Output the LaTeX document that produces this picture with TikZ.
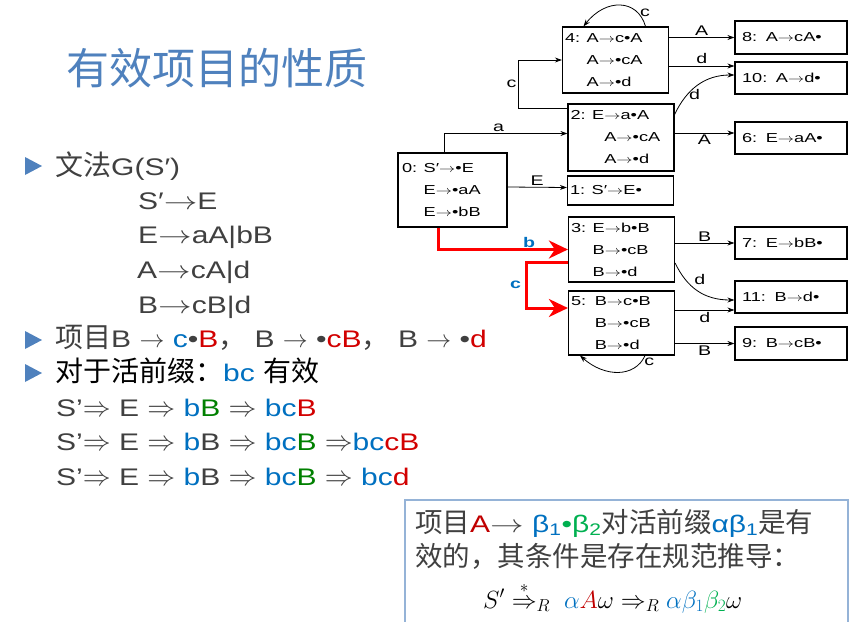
\documentclass[tikz,border=0pt]{standalone}
\usepackage{graphicx}
\usepackage{fontspec}
\setmainfont[FakeStretch=1.25]{Liberation Sans}
\newfontfamily\cjk{Noto Sans CJK SC}
\newfontfamily\dgfont[FakeStretch=1.4]{Liberation Sans}
\usetikzlibrary{arrows.meta}
\definecolor{titleblue}{RGB}{79,129,189}
\definecolor{txtgray}{RGB}{64,64,64}
\definecolor{kblue}{RGB}{0,112,192}
\definecolor{kred}{RGB}{210,0,0}
\definecolor{dred}{RGB}{192,0,0}
\definecolor{kgreen}{RGB}{0,128,0}
\definecolor{lgreen}{RGB}{0,176,80}
\definecolor{frameblue}{RGB}{149,179,215}
\newcommand{\zh}[1]{{\cjk\fontsize{28}{28}\selectfont #1}}
\newcommand{\zhb}[1]{{\cjk\fontsize{27.5}{27.5}\selectfont #1}}
\newcommand{\blu}[1]{\textcolor{kblue}{#1}}
\newcommand{\rdd}[1]{\textcolor{kred}{#1}}
\newcommand{\grn}[1]{\textcolor{kgreen}{#1}}
\newcommand{\ra}{\scalebox{1.35}[1]{$\rightarrow$}}
\newcommand{\Ra}{\scalebox{1.12}{$\Rightarrow$}}
\tikzset{
  lstate/.style={draw, line width=1.2pt, minimum width=106, minimum height=66, text width=101, inner sep=2.5pt, align=left, font=\dgfont\fontsize{13}{22}\selectfont},
  rstate/.style={lstate, minimum width=112, minimum height=32, text width=98},
  arr/.style={-{Stealth[length=7pt,width=5pt]}, line width=0.8pt},
  rarr/.style={-{Stealth[length=19pt,width=18pt,inset=6pt]}, line width=3pt, red},
  lbl/.style={inner sep=1.5pt, font=\dgfont\fontsize{14}{14}\selectfont},
  blbl/.style={inner sep=0.5pt, text=kblue, font=\dgfont\bfseries\fontsize{14}{14}\selectfont},
  ttl/.style={anchor=west, inner sep=0pt, text=titleblue, font=\cjk\fontsize{43}{43}\selectfont},
  txt/.style={anchor=base west, inner sep=0pt, text=txtgray, font=\fontsize{24}{24}\selectfont},
  frame/.style={draw=frameblue, line width=1.6pt},
}
\begin{document}
\begin{tikzpicture}[x=1pt,y=-1pt]
\useasboundingbox (0,0) rectangle (861,621);
\node[ttl] (title) at (66,68) {有效项目的性质};
\foreach \y in {166,340,373} \fill[titleblue] (25,\y-9) -- (42,\y) -- (25,\y+9) -- cycle;
\node[txt] (g0) at (55,175) {\zh{文法}G(S′)};
\node[txt] (g1) at (138,209) {S′\ra E};
\node[txt] (g2) at (138,243) {E\ra aA|bB};
\node[txt] (g3) at (137,278) {A\ra cA|d};
\node[txt] (g4) at (138,313) {B\ra cB|d};
\node[txt] (items) at (55,347) {\zh{项目}B $\rightarrow$ \blu{c}•\rdd{B}\zh{，} B $\rightarrow$ •\rdd{cB}\zh{，} B $\rightarrow$ •\rdd{d}};
\node[txt, text=black] (prefix) at (55,381) {\zh{对于活前缀：}\blu{bc} \zh{有效}};
\node[txt] (der1) at (56,416) {S’\Ra\ E \Ra\ \blu{b}\grn{B} \Ra\ \blu{bc}\rdd{B}};
\node[txt] (der2) at (56,450) {S’\Ra\ E \Ra\ \blu{b}B \Ra\ \blu{bc}\grn{B} \Ra\blu{bc}\rdd{cB}};
\node[txt] (der3) at (56,485) {S’\Ra\ E \Ra\ \blu{b}B \Ra\ \blu{bc}\grn{B} \Ra\ \blu{bc}\rdd{d}};

\node[lstate, minimum width=109, minimum height=74] (s0) at (452.5,190) {0: S′\ra•E\\\phantom{0: }E\ra•aA\\\phantom{0: }E\ra•bB};
\node[lstate, minimum height=29] (s1) at (620.5,190.5) {1: S′\ra E•};
\node[lstate, minimum height=67] (s2) at (621,137.5) {2: E\ra a•A\\\phantom{2: E}A\ra•cA\\\phantom{2: E}A\ra•d};
\node[lstate, minimum height=65] (s3) at (621.5,249.5) {3: E\ra b•B\\\phantom{3: }B\ra•cB\\\phantom{3: }B\ra•d};
\node[lstate] (s4) at (615.5,60) {4: A\ra c•A\\\phantom{4: }A\ra•cA\\\phantom{4: }A\ra•d};
\node[lstate, minimum height=64] (s5) at (621.5,323) {5:\ \ B\ra c•B\\\phantom{5:\ \ }B\ra•cB\\\phantom{5:\ \ }B\ra•d};
\node[rstate] (s6) at (791,138) {6:\ \ E\ra aA•};
\node[rstate] (s7) at (791,243) {7:\ \ E\ra bB•};
\node[rstate, minimum height=33] (s8) at (791,37.5) {8:\ \ A\ra cA•};
\node[rstate, minimum height=33] (s9) at (791,343.5) {9:\ \ B\ra cB•};
\node[rstate] (s10) at (791,78) {10:\ \ A\ra d•};
\node[rstate] (s11) at (791,297) {11:\ \ B\ra d•};

\draw[arr] ([xshift=47]s0.north west) |- node[lbl, pos=0.72, above]{a} ([yshift=4]s2.west);
\draw[arr] ([yshift=3]s0.east) -- node[lbl, above]{E} ([yshift=3]s1.west);
\draw[arr] ([yshift=-5]s2.north west) -- ++(-49,0) |- node[lbl, pos=0.25, left]{c} (s4.west);
\draw[arr] ([xshift=30]s4.north) .. controls +(-8,-28) and +(22,-28) .. node[lbl, pos=0.2, right=0pt]{c} ([xshift=-32]s4.north);
\draw[arr] (s4.east |- s8.west) -- node[lbl, above]{A} (s8.west);
\draw[arr] ([yshift=-6]s4.east) -- node[lbl, above]{d} ([yshift=12]s10.west);
\draw[arr] ([yshift=-11]s2.north east) .. controls +(12,-25) and +(-30,0) .. node[lbl, pos=0.3, right]{d} ([yshift=3]s10.west);
\draw[arr] ([yshift=4.5]s2.east) -- node[lbl, below]{A} ([yshift=5]s6.west);
\draw[rarr] ([xshift=41]s0.south west) |- node[blbl, pos=0.85, above]{b} (s3.west);
\draw[rarr] ([yshift=-12.5]s3.west) -- ++(-41,0) |- node[blbl, pos=0.25, left=4pt]{c} ([yshift=15]s5.west);
\draw[arr] (s3.east |- s7.west) -- node[lbl, above]{B} (s7.west);
\draw[arr] ([yshift=-13.5]s3.east) .. controls +(12,25) and +(-30,0) .. node[lbl, pos=0.4, above right=0pt]{d} ([yshift=-3]s11.west);
\draw[arr] ([yshift=13]s5.east) -- node[lbl, below]{d} ([yshift=-13]s11.west);
\draw[arr] (s5.east |- s9.west) -- node[lbl, below]{B} (s9.west);
\draw[arr] ([xshift=23.5]s5.south) .. controls +(-10,22) and +(25,22) .. node[lbl, pos=0.1, right=1pt]{c} ([xshift=-41.5]s5.south);

\draw[frame] (405,500) rectangle (848,660);
\node[txt] (cond1) at (415,532) {\zhb{项目}\textcolor{dred}{A}\ra\ \blu{β\textsubscript{1}}\textcolor{lgreen}{•β\textsubscript{2}}\zhb{对活前缀}\blu{αβ\textsubscript{1}}\zhb{是有}};
\node[txt] (cond2) at (415,566) {\zhb{效的，其条件是存在规范推导：}};
\node[txt, text=black, font=\fontsize{25}{25}\selectfont] (cond3) at (483,608) {$S'\stackrel{\raisebox{4pt}{$\scriptstyle *$}}{\Rightarrow}_R\; \textcolor{kblue}{\alpha}\textcolor{dred}{A}\omega \Rightarrow_R \textcolor{kblue}{\alpha\beta_1}\textcolor{lgreen}{\beta_2}\omega$};
\end{tikzpicture}
\end{document}
